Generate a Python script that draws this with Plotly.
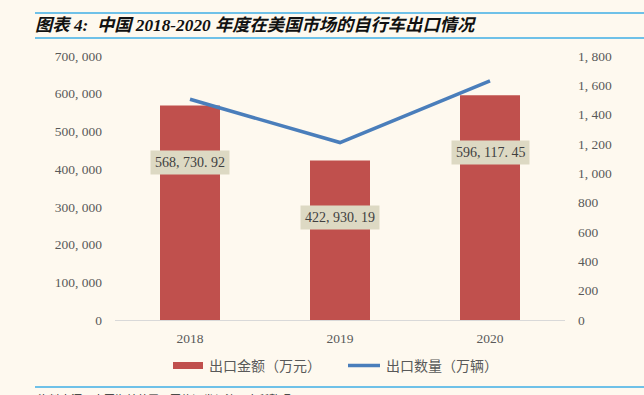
import plotly.graph_objects as go

years = ["2018", "2019", "2020"]
export_value = [568730.92, 422930.19, 596117.45]   # 出口金额（万元）
export_qty = [1505, 1210, 1630]                     # 出口数量（万辆）
left_ticks = [0, 100000, 200000, 300000, 400000, 500000, 600000, 700000]
left_ticktext = ["0", "100, 000", "200, 000", "300, 000", "400, 000", "500, 000", "600, 000", "700, 000"]
right_ticks = [0, 200, 400, 600, 800, 1000, 1200, 1400, 1600, 1800]
right_ticktext = ["0", "200", "400", "600", "800", "1, 000", "1, 200", "1, 400", "1, 600", "1, 800"]

BG = "#FEF9EF"
SERIF = "Liberation Serif, Noto Sans CJK SC, serif"
GRAY = "#595959"

W, H = 644, 395
L, R, T, B = 115, 79, 56, 75
pw, ph = W - L - R, H - T - B

def to_px(x):
    return (x - L) / pw

def to_py(y):
    return (H - B - y) / ph

xpos = list(range(len(years)))

fig = go.Figure()
fig.add_trace(go.Bar(x=xpos, y=export_value, name="出口金额（万元）", marker=dict(color="#C0504D", line=dict(width=0)),
                     width=0.4, yaxis="y", showlegend=False))
fig.add_trace(go.Scatter(x=xpos, y=export_qty, name="出口数量（万辆）", mode="lines",
                         line=dict(color="#4A7EBB", width=3.5), yaxis="y2", showlegend=False))

for i, v in zip(xpos, export_value):
    txt = f"{v:,.2f}".replace(",", ", ").replace(".", ". ")
    fig.add_annotation(x=i, y=v, xref="x", yref="y", text=txt, showarrow=False, yshift=-57,
                       bgcolor="#DDD9C3", borderpad=4, font=dict(family=SERIF, size=14, color="#404040"))

# manual legend
fig.add_shape(type="rect", xref="paper", yref="paper", x0=to_px(173), x1=to_px(203), y0=to_py(369), y1=to_py(362),
              fillcolor="#C0504D", line=dict(width=0))
fig.add_annotation(x=to_px(207), y=to_py(366), xref="paper", yref="paper", xanchor="left", yanchor="middle",
                   text="出口金额（万元）", showarrow=False, font=dict(family=SERIF, size=14, color=GRAY))
fig.add_shape(type="line", xref="paper", yref="paper", x0=to_px(348), x1=to_px(380), y0=to_py(365.5), y1=to_py(365.5),
              line=dict(color="#4A7EBB", width=3.5))
fig.add_annotation(x=to_px(384), y=to_py(366), xref="paper", yref="paper", xanchor="left", yanchor="middle",
                   text="出口数量（万辆）", showarrow=False, font=dict(family=SERIF, size=14, color=GRAY))

# title and rules
fig.add_annotation(x=to_px(33), y=to_py(25), xref="paper", yref="paper", xanchor="left", yanchor="middle",
                   text="<b><i>图表 4:  中国 2018-2020 年度在美国市场的自行车出口情况</i></b>", showarrow=False,
                   font=dict(family=SERIF, size=17.3, color="#111111"))
for yy in (13, 38, 387):
    fig.add_shape(type="line", xref="paper", yref="paper", x0=to_px(35), x1=to_px(644), y0=to_py(yy), y1=to_py(yy),
                  line=dict(color="#3FAEE6", width=1.5))
fig.add_annotation(x=to_px(36), y=to_py(391), xref="paper", yref="paper", xanchor="left", yanchor="top",
                   text="资料来源：中国海关总署，国信证券经济研究所整理", showarrow=False,
                   font=dict(family=SERIF, size=11, color="#222222"))

fig.update_layout(
    width=W, height=H, margin=dict(l=L, r=R, t=T, b=B, autoexpand=False),
    paper_bgcolor=BG, plot_bgcolor=BG,
    showlegend=False,
    xaxis=dict(range=[-0.5, 2.5], tickvals=xpos, ticktext=years, showline=True, linecolor="#D9D9D9", linewidth=1,
               showgrid=False, zeroline=False, ticks="",
               tickfont=dict(family=SERIF, size=13.5, color=GRAY), ticklabelstandoff=6, automargin=False),
    yaxis=dict(range=[0, 700000], tickvals=left_ticks, ticktext=left_ticktext, showgrid=False, zeroline=False,
               tickfont=dict(family=SERIF, size=13.5, color=GRAY), ticklabelstandoff=12, automargin=False),
    yaxis2=dict(range=[0, 1800], tickvals=right_ticks, ticktext=right_ticktext, overlaying="y", side="right",
                showgrid=False, zeroline=False, tickfont=dict(family=SERIF, size=13.5, color=GRAY),
                ticklabelstandoff=12, automargin=False),
)

fig.write_html("out.html", config={"displayModeBar": False},
               post_script="document.body.style.margin='0';document.body.style.background='%s';" % BG)
